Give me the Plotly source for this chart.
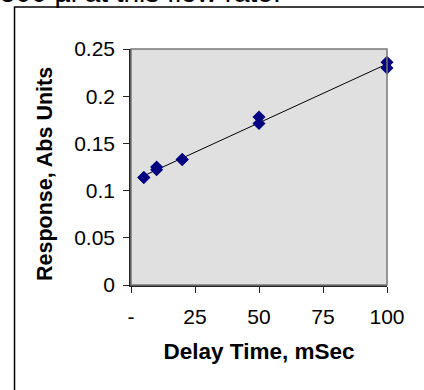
import numpy as np
import plotly.graph_objects as go

delay_ms = [5, 5, 10, 10, 20, 20, 50, 50, 100, 100]
response = [0.114, 0.114, 0.122, 0.125, 0.133, 0.133, 0.171, 0.178, 0.230, 0.236]
x_tickvals = [0, 25, 50, 75, 100]
x_ticktext = ["-", "25", "50", "75", "100"]
y_tickvals = [0, 0.05, 0.1, 0.15, 0.2, 0.25]
y_ticktext = ["0", "0.05", "0.1", "0.15", "0.2", "0.25"]

slope, intercept = np.polyfit(delay_ms, response, 1)
fit_x = [min(delay_ms), max(delay_ms)]
fit_y = [slope * v + intercept for v in fit_x]

FONT = "Liberation Sans, Arial, sans-serif"

fig = go.Figure()
fig.add_trace(go.Scatter(x=fit_x, y=fit_y, mode="lines",
                         line=dict(color="black", width=1), showlegend=False, hoverinfo="skip"))
fig.add_trace(go.Scatter(x=delay_ms, y=response, mode="markers", cliponaxis=False,
                         marker=dict(symbol="diamond", size=10, color="#000080", line=dict(width=0)),
                         showlegend=False))

fig.update_layout(
    width=424, height=390,
    margin=dict(l=131, r=37, t=49, b=105),
    paper_bgcolor="white", plot_bgcolor="#e0e0e0",
    font=dict(family=FONT, size=21, color="black"),
    xaxis=dict(range=[0, 100], tickvals=x_tickvals, ticktext=x_ticktext,
               showgrid=False, zeroline=False, showline=True, linecolor="#222", linewidth=1.5,
               ticks="outside", ticklen=6, tickcolor="#222", tickfont=dict(size=21),
               ticklabelstandoff=6,
               title=dict(text="<b>Delay Time, mSec</b>", font=dict(size=22.5), standoff=16)),
    yaxis=dict(range=[0, 0.25], tickvals=y_tickvals, ticktext=y_ticktext,
               showgrid=False, zeroline=False, showline=True, linecolor="#222", linewidth=1.5,
               ticks="outside", ticklen=6, tickcolor="#222", tickfont=dict(size=21),
               ticklabelstandoff=4),
    shapes=[
        dict(type="rect", xref="paper", yref="paper", x0=0, x1=1, y0=0, y1=1,
             line=dict(color="#777", width=1.5), layer="above"),
        dict(type="rect", xref="paper", yref="paper", x0=-0.455, x1=1.2, y0=-0.5, y1=1.178,
             line=dict(color="black", width=1.5)),
    ],
    annotations=[
        dict(text="500 µl at this flow rate.", xref="paper", yref="paper",
             x=-0.52, y=1.165, xanchor="left", yanchor="bottom", showarrow=False,
             font=dict(size=28, family=FONT)),
        dict(text="<b>Response, Abs Units</b>", xref="paper", yref="paper",
             x=-0.336, y=0.47, xanchor="center", yanchor="middle", showarrow=False,
             textangle=-90, font=dict(size=21.5, family=FONT)),
    ],
)

fig.write_html("out.html", post_script="document.body.style.margin='0';",
               config={"displayModeBar": False})
